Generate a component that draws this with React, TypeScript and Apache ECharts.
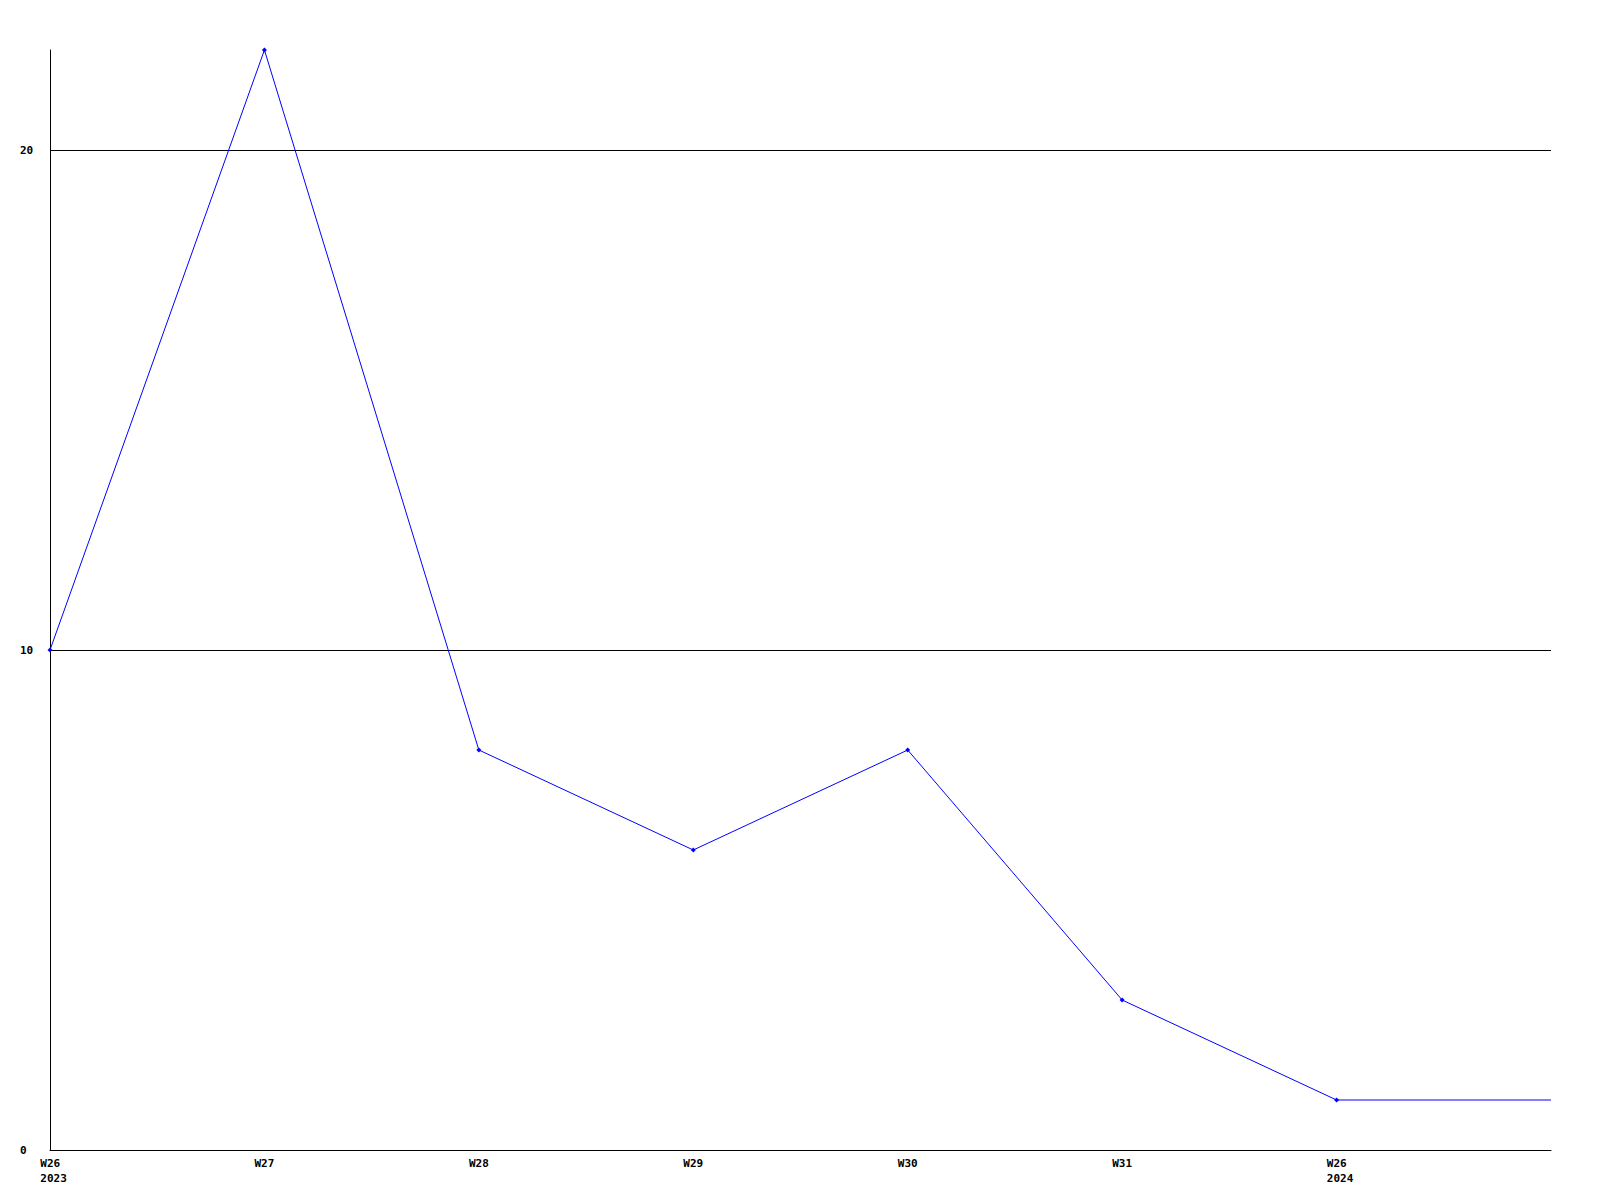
import React, { useEffect, useRef } from "react";
import * as echarts from "echarts";

const weeks = ["W26", "W27", "W28", "W29", "W30", "W31", "W26", ""];
const years = ["2023", "", "", "", "", "", "2024", ""];
const values = [10, 22, 8, 6, 8, 3, 1, 1];
const markerShown = [true, true, true, true, true, true, true, false];
const yMax = 22;
const yInterval = 10;

export default function App() {
  const ref = useRef<HTMLDivElement>(null);
  useEffect(() => {
    document.body.style.margin = "0";
    const chart = echarts.init(ref.current!, null, { renderer: "svg" });
    const font = "DejaVu Sans Mono";
    chart.setOption({
      animation: false,
      backgroundColor: "#ffffff",
      grid: { left: 50, right: 49, top: 50, bottom: 50, containLabel: false },
      xAxis: {
        type: "category",
        boundaryGap: false,
        data: weeks.map((w, i) => ({ value: w + "|" + years[i] })),
        axisLine: { show: true, lineStyle: { color: "#000", width: 1 } },
        axisTick: { show: false },
        splitLine: { show: false },
        axisLabel: {
          interval: 0,
          margin: 6,
          color: "#000",
          fontFamily: font,
          fontWeight: "bold",
          fontSize: 11,
          lineHeight: 15,
          formatter: (v: string) => {
            const [w, y] = v.split("|");
            if (!w) return "";
            if (y) return `{p|${w}}\n{p|${y}}`;
            return `{c|${w}}`;
          },
          rich: {
            p: {
              align: "left",
              padding: [0, 0, 0, 7],
              fontFamily: font,
              fontWeight: "bold",
              fontSize: 11,
              lineHeight: 15,
              color: "#000",
            },
            c: {
              fontFamily: font,
              fontWeight: "bold",
              fontSize: 11,
              lineHeight: 15,
              color: "#000",
            },
          },
        },
      },
      yAxis: {
        type: "value",
        min: 0,
        max: yMax,
        interval: yInterval,
        axisLine: { show: true, lineStyle: { color: "#000", width: 1 } },
        axisTick: { show: false },
        splitLine: {
          show: true,
          showMaxLine: false,
          showMinLine: false,
          lineStyle: { color: "#000", width: 1 },
        },
        axisLabel: {
          showMaxLabel: false,
          align: "left",
          margin: 30,
          color: "#000",
          fontFamily: font,
          fontWeight: "bold",
          fontSize: 11,
        },
      },
      series: [
        {
          type: "line",
          data: values.map((v, i) => ({
            value: v,
            symbol: markerShown[i] ? "diamond" : "none",
          })),
          symbolSize: 5,
          showAllSymbol: true,
          lineStyle: { color: "#0000ff", width: 1 },
          itemStyle: { color: "#0000ff" },
        },
      ],
    });
    return () => chart.dispose();
  }, []);
  return <div ref={ref} style={{ width: 1600, height: 1200 }} />;
}
